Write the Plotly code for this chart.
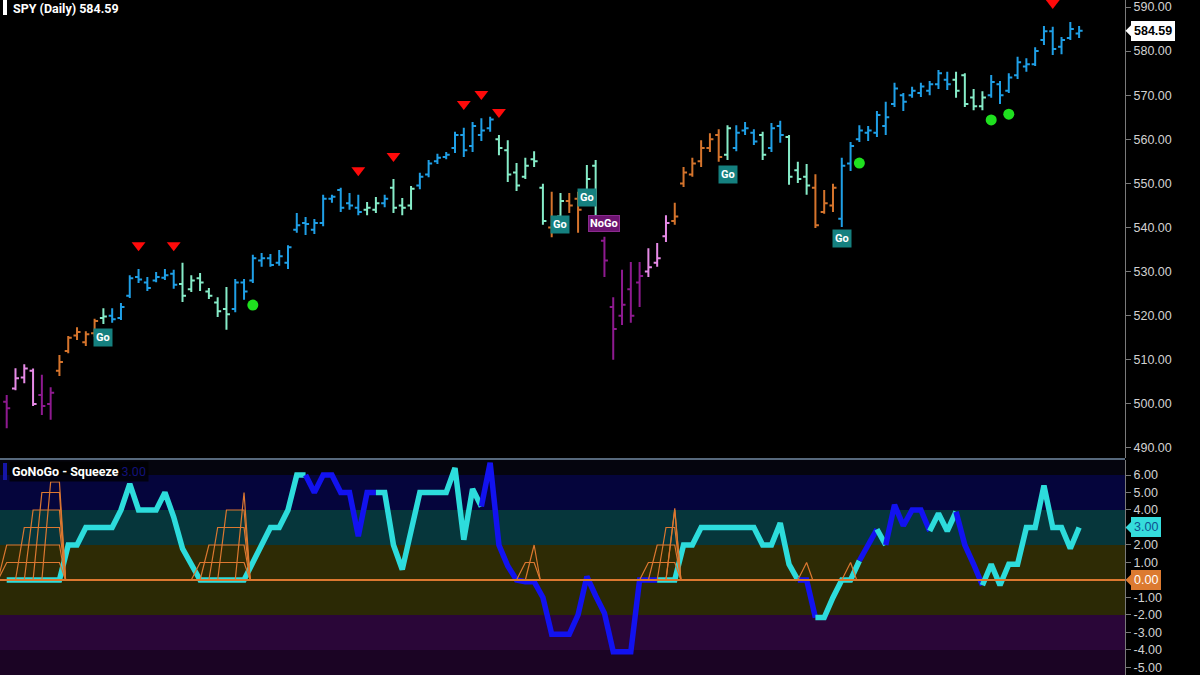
import plotly.graph_objects as go

# ---------------- data ----------------
bar_index = list(range(123))
high = [502.0, 508.1, 509.0, 508.0, 506.6, 503.8, 511.1, 515.4, 517.4, 516.5,
        519.3, 521.7, 521.7, 522.9, 529.2, 530.6, 528.8, 529.9, 530.6, 530.4,
        532.0, 529.2, 529.7, 526.3, 524.2, 526.5, 528.3, 528.3, 533.8, 534.2,
        534.0, 534.9, 536.0, 543.3, 542.4, 541.9, 547.4, 547.4, 549.0, 547.8,
        547.4, 545.8, 546.9, 547.4, 551.0, 546.7, 549.4, 552.4, 555.3, 556.7,
        557.1, 561.7, 562.6, 563.9, 564.8, 565.1, 561.0, 559.8, 554.6, 555.8,
        557.3, 549.9, 548.1, 547.8, 547.8, 548.1, 554.2, 555.3, 537.9, 524.2,
        530.4, 532.2, 532.2, 535.3, 536.5, 542.8, 545.6, 553.7, 555.8, 559.8,
        561.4, 562.3, 563.2, 563.2, 563.9, 562.3, 561.7, 563.7, 564.2, 561.0,
        554.9, 554.4, 552.1, 548.5, 549.9, 555.8, 559.4, 563.2, 563.0, 566.4,
        568.5, 572.8, 570.5, 571.9, 572.8, 573.2, 575.7, 575.3, 575.3, 575.0,
        571.4, 570.9, 574.6, 573.2, 575.0, 578.7, 578.4, 580.9, 585.7, 585.5,
        583.2, 586.6, 585.7]
low = [494.5, 503.1, 504.7, 499.5, 497.5, 496.4, 506.3, 511.5, 514.5, 513.1,
       515.2, 518.1, 518.4, 519.0, 524.0, 527.4, 525.6, 527.6, 528.1, 526.1,
       523.1, 525.4, 525.6, 523.8, 519.7, 516.8, 520.8, 523.6, 527.4, 531.1,
       531.1, 531.3, 530.6, 538.8, 538.3, 538.5, 540.3, 545.6, 543.5, 544.0,
       542.8, 542.8, 543.3, 544.6, 543.3, 542.8, 544.0, 548.7, 551.4, 554.4,
       555.5, 556.9, 556.0, 557.1, 559.6, 561.7, 556.4, 550.3, 548.3, 551.0,
       553.7, 540.6, 537.8, 541.7, 543.3, 538.8, 548.1, 539.9, 528.8, 510.0,
       517.9, 518.4, 522.0, 528.8, 531.1, 536.7, 540.6, 549.2, 551.5, 553.7,
       557.1, 554.9, 555.3, 557.3, 561.0, 558.7, 555.3, 557.1, 559.2, 549.7,
       550.1, 547.4, 539.9, 543.1, 543.5, 540.1, 552.8, 559.4, 559.6, 560.5,
       561.0, 567.3, 566.4, 569.4, 569.6, 570.0, 571.4, 571.2, 569.4, 567.3,
       566.6, 566.6, 569.4, 568.0, 570.5, 573.7, 575.3, 576.6, 581.4, 579.1,
       579.3, 582.5, 583.0]
open_ = [500.5, 503.5, 506.0, 507.5, 502.0, 500.0, 507.5, 512.0, 515.5, 514.0,
         516.0, 519.5, 520.0, 519.5, 524.5, 528.8, 527.5, 528.0, 528.6, 529.5,
         527.2, 526.0, 528.5, 525.5, 523.0, 521.5, 521.5, 527.5, 528.0, 532.5,
         533.0, 532.0, 532.0, 539.5, 541.0, 539.5, 541.0, 546.5, 548.5, 545.5,
         544.5, 544.0, 544.0, 545.5, 549.0, 545.0, 545.0, 549.5, 552.0, 555.0,
         556.0, 558.0, 561.0, 558.5, 561.0, 562.5, 560.0, 557.5, 552.5, 551.5,
         555.5, 549.0, 540.0, 542.5, 546.0, 546.5, 548.5, 554.0, 537.0, 522.0,
         520.0, 526.0, 527.5, 530.0, 532.0, 538.0, 541.5, 550.0, 552.0, 555.0,
         558.0, 561.0, 556.5, 558.0, 562.0, 561.5, 561.0, 558.0, 563.0, 560.5,
         553.0, 551.5, 549.0, 543.5, 545.0, 542.0, 554.5, 560.0, 561.5, 561.5,
         563.0, 568.0, 570.0, 570.0, 570.5, 571.0, 572.5, 573.5, 573.5, 574.5,
         569.5, 567.5, 570.0, 572.5, 571.0, 574.5, 576.5, 577.0, 582.5, 584.5,
         581.0, 583.0, 584.0]
close = [499.0, 505.8, 508.0, 500.0, 499.5, 502.5, 509.5, 515.0, 516.3, 515.8,
         518.8, 519.8, 519.2, 522.0, 528.5, 528.2, 526.3, 528.8, 529.2, 527.0,
         524.5, 528.0, 527.5, 524.5, 521.0, 520.3, 527.5, 525.5, 533.0, 533.0,
         531.5, 533.5, 535.5, 540.5, 540.8, 541.0, 546.5, 547.0, 544.5, 545.0,
         543.5, 544.5, 545.5, 546.5, 544.5, 544.5, 548.8, 551.5, 554.5, 555.8,
         556.5, 561.0, 557.5, 563.0, 562.0, 564.5, 558.0, 552.0, 549.5, 554.0,
         555.0, 541.5, 539.5, 546.0, 545.0, 544.0, 551.0, 541.0, 532.5, 517.0,
         522.5, 520.0, 529.0, 531.0, 533.0, 541.0, 542.5, 552.5, 554.5, 558.0,
         560.0, 556.0, 562.5, 561.5, 562.5, 559.5, 556.5, 562.5, 561.0, 551.5,
         551.0, 549.5, 540.5, 545.5, 549.0, 554.0, 558.5, 562.0, 562.0, 565.5,
         565.0, 571.5, 568.5, 571.0, 572.0, 572.5, 575.0, 572.5, 571.0, 568.0,
         567.5, 569.5, 573.0, 570.0, 574.0, 577.5, 577.0, 580.0, 584.5, 580.5,
         582.5, 585.0, 584.59]
# GoNoGo trend colour key per bar: B=strong Go, M=weak Go, O=amber, K=weak NoGo, P=strong NoGo
bar_color = ("P K K K P P O O O O O M B B B B B B B B M M M M M M "
             "B B B B B B B B B B B B B B B M M B M M M B B B B B B B B B "
             "M M M M M M O M O O M M P P P P P K K K O O O O O O "
             "M B B B M B B M M M O O O B B B B B B B B B B B B B "
             "M M M M B B B B B B B B B B B").split()

oscillator = [0, 0, 0, 0, 0, 0, 0, 2, 2, 3, 3, 3, 3, 4, 5.5, 4,
              4, 4, 5, 3.6, 1.8, 0.9, 0, 0, 0, 0,
              0, 0, 1, 2, 3, 3, 4, 6, 6, 5,
              6, 6, 5, 5, 2.5, 5, 5, 5, 2, 0.6,
              2.8, 5, 5, 5, 5, 6.4, 2.3, 5.2, 4.2, 6.7,
              2, 0.8, 0, -0.1, -0.1, -1, -3.1, -3.1, -3.1, -2,
              0.2, -0.9, -1.9, -4.1, -4.1, -4.1, 0, 0, 0, 0,
              0, 2, 2, 3, 3, 3, 3, 3, 3, 3,
              2, 2, 3.25, 0.9, 0, 0, -2.15, -2.15, -1, 0,
              0, 1.1, 2, 2.9, 2, 4.3, 3.1, 4, 4, 2.8,
              3.8, 2.8, 3.9, 2, 0.9, -0.3, 0.9, -0.3, 0.9, 0.9,
              3, 3, 5.4, 3, 3, 1.8, 3]
# c = cyan (Go), b = blue (NoGo-ish) colour of the oscillator line, per point
osc_color = list("ccccccccccccccccccccccccccccccccccc" "bbbbbbbb" "cccccccccccc"
                 "bbbbbbbbbbbbbbbbbbbb" "cccccccccccccccc" "bb" "ccccc" "bb" "c"
                 "bbbbb" "ccc" "bbb" "ccccccccccc")

squeeze_bars = [0, 1, 2, 3, 4, 5, 6, 22, 23, 24, 25, 26, 27, 59, 60, 73, 74, 75, 76, 91, 96]
squeeze_vals = [2, 2, 3, 4, 5, 5.6, 5.6, 1, 2, 3, 4, 4.5, 5.0, 1, 2, 1, 2, 3, 4.1, 1, 1]

top_signal_bars = [15, 19, 40, 44, 52, 54, 56, 119]
top_signal_price = [536.0, 536.0, 553.0, 556.2, 568.0, 570.3, 566.2, 590.9]
dot_bars = [28, 97, 112, 114]
dot_price = [522.4, 554.6, 564.4, 565.7]
go_bars = [11, 63, 66, 82, 95]
go_price = [515.0, 540.6, 546.7, 552.1, 537.4]
nogo_bars = [68]
nogo_price = [540.8]

price_ticks = [490, 500, 510, 520, 530, 540, 550, 560, 570, 580, 590]
osc_ticks = [-5, -4, -3, -2, -1, 0, 1, 2, 3, 4, 5, 6]
osc_bands = [(6, 6.86, "#05050e"), (4, 6, "#05053c"), (2, 4, "#06363b"),
             (0, 2, "#2e2b05"), (-2, 0, "#2b2905"), (-4, -2, "#2a0638"),
             (-5.43, -4, "#1b0424")]

assert len(bar_color) == 123 and len(osc_color) == 123 and len(oscillator) == 123

# ---------------- styling ----------------
BAR_COLORS = {"B": "#1f9fe6", "M": "#86ecc8", "O": "#d5742c", "K": "#e68ae6", "P": "#8e1a90"}
CYAN, BLUE, ORANGE = "#2ddcdc", "#1212f0", "#dc7830"
PRICE_RANGE = [487.73, 591.59]
OSC_RANGE = [-5.43, 6.857]
PRICE_DOM = [1 - 458 / 675, 1.0]
OSC_DOM = [0.0, 215 / 675]
TICKFONT = dict(family="Liberation Sans, Arial", size=12.5, color="#d2d2d2")


def paper_y(v, rng, dom):
    return dom[0] + (v - rng[0]) / (rng[1] - rng[0]) * (dom[1] - dom[0])


fig = go.Figure()

# price bars, one OHLC trace per trend colour
for key, col in BAR_COLORS.items():
    ids = [i for i in bar_index if bar_color[i] == key]
    fig.add_trace(go.Ohlc(
        x=ids, open=[open_[i] for i in ids], high=[high[i] for i in ids],
        low=[low[i] for i in ids], close=[close[i] for i in ids],
        increasing=dict(line=dict(color=col, width=2)),
        decreasing=dict(line=dict(color=col, width=2)),
        tickwidth=0.4, hoverinfo="skip", showlegend=False, xaxis="x", yaxis="y"))

fig.add_trace(go.Scatter(x=top_signal_bars, y=top_signal_price, mode="markers",
                         marker=dict(symbol="triangle-down", size=12, color="#ff0a0a"),
                         hoverinfo="skip", showlegend=False, xaxis="x", yaxis="y"))
fig.add_trace(go.Scatter(x=dot_bars, y=dot_price, mode="markers",
                         marker=dict(symbol="circle", size=11, color="#1fe01f"),
                         hoverinfo="skip", showlegend=False, xaxis="x", yaxis="y"))

# oscillator line, split in runs of equal colour
runs = []
for k in range(len(oscillator) - 1):
    c = osc_color[k + 1]
    if runs and runs[-1][0] == c and runs[-1][2] == k:
        runs[-1][2] = k + 1
    else:
        runs.append([c, k, k + 1])
for c, a, b in runs:
    fig.add_trace(go.Scatter(x=bar_index[a:b + 1], y=oscillator[a:b + 1], mode="lines",
                             line=dict(color=CYAN if c == "c" else BLUE, width=5.5),
                             hoverinfo="skip", showlegend=False, xaxis="x2", yaxis="y2"))

# zero line
fig.add_trace(go.Scatter(x=[-1, 130], y=[0, 0], mode="lines", line=dict(color=ORANGE, width=2),
                         hoverinfo="skip", showlegend=False, xaxis="x2", yaxis="y2"))

# squeeze ladders
groups = []
for b, v in zip(squeeze_bars, squeeze_vals):
    if groups and groups[-1][-1][0] == b - 1:
        groups[-1].append((b, v))
    else:
        groups.append([(b, v)])
for g in groups:
    vmax = max(v for _, v in g)
    levels = [float(L) for L in range(1, int(vmax) + 1)]
    if vmax > int(vmax):
        levels.append(vmax)
    xs, ys = [], []
    for L in levels:
        sel = [b for b, v in g if v >= L - 1e-9]
        f, l = sel[0], sel[-1]
        xs += [f - 1, f, l, l + 0.7, None]
        ys += [0, L, L, 0, None]
    fig.add_trace(go.Scatter(x=xs, y=ys, mode="lines", line=dict(color=ORANGE, width=1.2),
                             hoverinfo="skip", showlegend=False, xaxis="x2", yaxis="y2"))

shapes = []
for y0, y1, col in osc_bands:
    shapes.append(dict(type="rect", xref="paper", yref="y2", x0=0, x1=1, y0=y0, y1=y1,
                       fillcolor=col, line=dict(width=0), layer="below"))
# panel separator
shapes.append(dict(type="line", xref="paper", yref="paper", x0=0, x1=1,
                   y0=1 - 459 / 675, y1=1 - 459 / 675, line=dict(color="#56687c", width=2)))
# title markers
shapes.append(dict(type="rect", xref="paper", yref="paper", x0=3 / 1125, x1=7 / 1125,
                   y0=1 - 15 / 675, y1=1, fillcolor="white", line=dict(width=0)))
shapes.append(dict(type="rect", xref="paper", yref="paper", x0=3 / 1125, x1=7 / 1125,
                   y0=1 - 480 / 675, y1=1 - 463 / 675, fillcolor="#1616a8", line=dict(width=0)))

annotations = []
TFONT = dict(family="Roboto, Liberation Sans", size=12.5, color="white")
annotations.append(dict(xref="paper", yref="paper", x=11 / 1125, y=1 - 8 / 675, xanchor="left",
                        yanchor="middle", showarrow=False,
                        text="<b>SPY (Daily) %.2f</b>" % close[-1], font=TFONT))
annotations.append(dict(xref="paper", yref="paper", x=9 / 1125, y=1 - 471.5 / 675, xanchor="left",
                        yanchor="middle", showarrow=False, bgcolor="rgba(0,0,0,0.75)", borderpad=2,
                        text="<b>GoNoGo - Squeeze</b> <span style='color:#12127a'>%.2f</span>" % oscillator[-1],
                        font=TFONT))
for b, p in zip(go_bars, go_price):
    annotations.append(dict(x=b, y=p, xref="x", yref="y", showarrow=False, text="<b>Go</b>",
                            bgcolor="#15807f", borderpad=2,
                            font=dict(family="Roboto, Liberation Sans", size=11, color="white")))
for b, p in zip(nogo_bars, nogo_price):
    annotations.append(dict(x=b, y=p, xref="x", yref="y", showarrow=False, text="<b>NoGo</b>",
                            bgcolor="#6c1470", bordercolor="#8a2a8e", borderwidth=1, borderpad=1,
                            font=dict(family="Roboto, Liberation Sans", size=11, color="white")))

# right-hand value tags
tags = [(paper_y(close[-1], PRICE_RANGE, PRICE_DOM), "%.2f" % close[-1], "white", "black"),
        (paper_y(oscillator[-1], OSC_RANGE, OSC_DOM), "%.2f" % oscillator[-1], "#35dcdc", "#0d5090"),
        (paper_y(0, OSC_RANGE, OSC_DOM), "0.00", "#dc7a30", "white")]
for py, txt, bg, fg in tags:
    annotations.append(dict(xref="paper", yref="paper", x=1131 / 1125, y=py, xanchor="left",
                            yanchor="middle", showarrow=False, text="<b>%s</b>" % txt if fg == "black" else txt,
                            bgcolor=bg, bordercolor=bg, borderpad=2,
                            font=dict(family="Liberation Sans, Arial", size=12.5, color=fg)))
    h = 6 / 675
    shapes.append(dict(type="path", xref="paper", yref="paper",
                       path="M %f %f L %f %f L %f %f Z" % (1125.5 / 1125, py, 1131.5 / 1125, py + h,
                                                          1131.5 / 1125, py - h),
                       fillcolor=bg, line=dict(width=0)))

axis_common = dict(side="right", showgrid=False, zeroline=False, showline=True, linecolor="#7a7a7a",
                   linewidth=1, ticks="outside", ticklen=5, tickcolor="#7a7a7a", tickfont=TICKFONT,
                   fixedrange=True)

fig.update_layout(
    width=1200, height=675,
    margin=dict(l=0, r=75, t=0, b=0, pad=0, autoexpand=False),
    paper_bgcolor="black", plot_bgcolor="black",
    showlegend=False,
    xaxis=dict(domain=[0, 1], range=[-0.762, 127.22], visible=False, anchor="y",
               rangeslider=dict(visible=False), fixedrange=True),
    xaxis2=dict(domain=[0, 1], matches="x", visible=False, anchor="y2"),
    yaxis=dict(domain=PRICE_DOM, range=PRICE_RANGE, anchor="x", tickvals=price_ticks,
               ticktext=["%.2f" % t for t in price_ticks], **axis_common),
    yaxis2=dict(domain=OSC_DOM, range=OSC_RANGE, anchor="x2", tickvals=osc_ticks,
                ticktext=["%.2f" % t for t in osc_ticks], **axis_common),
    shapes=shapes, annotations=annotations,
)

fig.write_html("out.html", config={"displayModeBar": False},
               post_script="document.body.style.margin='0';document.body.style.background='black';"
                           "document.body.style.overflow='hidden';")
